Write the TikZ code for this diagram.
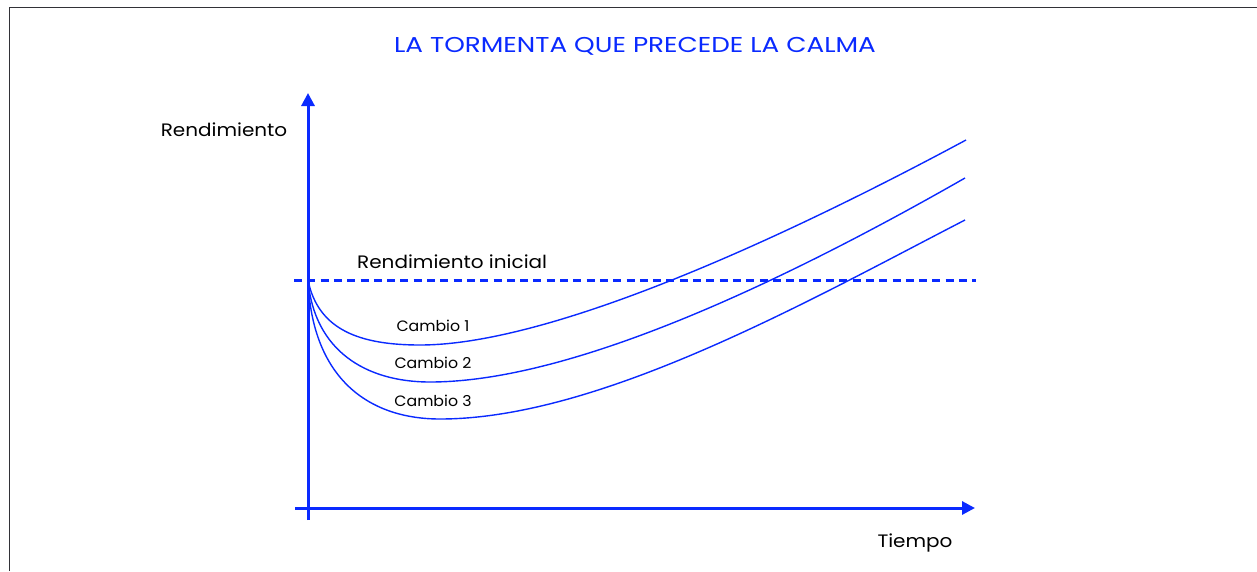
\documentclass[tikz,border=0pt]{standalone}
\usepackage{fontspec}
\setmainfont{Poppins}[FakeStretch=1.11]
\newfontfamily\titlefont{Poppins}[FakeStretch=1.22]
\newfontfamily\cambiofont{Poppins}[FakeStretch=1.05]
\usetikzlibrary{arrows.meta}
\definecolor{myblue}{RGB}{10,42,255}
\definecolor{frame}{RGB}{50,50,55}
\tikzset{
  axis/.style={myblue, line width=3pt},
  curve/.style={myblue, line width=1.4pt},
  baseline/.style={myblue, line width=3pt, dash pattern=on 8pt off 5.3pt},
  lbl/.style={inner sep=0pt, text=black},
  biglbl/.style={lbl, font=\fontsize{18}{22}\selectfont},
  cambio/.style={lbl, anchor=base, font=\cambiofont\fontsize{15}{18}\selectfont},
}
\begin{document}
\begin{tikzpicture}[x=1pt,y=-1pt]
\useasboundingbox (0,0) rectangle (1257,571);
\fill[white] (0,0) rectangle (1257,571);
% frame (cropped on the right and bottom)
\coordinate (f1) at (9.5,571);
\coordinate (f2) at (9.5,7.5);
\coordinate (f3) at (1257,7.5);
\draw[frame, line width=1.5pt] (f1) -- (f2) -- (f3);
% title
\node[lbl, anchor=base, text=myblue, font=\titlefont\fontsize{21.5}{25}\selectfont] (title) at (635,52.5) {LA TORMENTA QUE PRECEDE LA CALMA};
% axes
\coordinate (ybot) at (308,520);
\coordinate (ytop) at (308,93);
\coordinate (xl) at (295,508);
\coordinate (xr) at (975,508);
\draw[axis, -{Triangle[length=13pt,width=13pt]}] (ybot) -- (ytop);
\draw[axis, -{Triangle[length=13pt,width=13pt]}] (xl) -- (xr);
% axis labels
\node[biglbl, anchor=base] (ylab) at (224,136) {Rendimiento};
\node[biglbl, anchor=base] (xlab) at (915,547) {Tiempo};
% initial level
\coordinate (dl) at (294,280);
\coordinate (dr) at (976,280);
\draw[baseline] (dl) -- (dr);
\node[biglbl, anchor=base west] (ini) at (357,268) {Rendimiento inicial};
% curves
\coordinate (o) at (308,280);
\coordinate (m1) at (420,345);
\coordinate (e1) at (966,140);
\coordinate (m2) at (430,382);
\coordinate (e2) at (965,178);
\coordinate (m3) at (440,419);
\coordinate (e3) at (965,220);
\draw[curve] (o) .. controls (318,330) and (360,345) .. (m1) .. controls (550,345) and (780,240) .. (e1);
\draw[curve] (o) .. controls (314,350) and (365,382) .. (m2) .. controls (575,382) and (790,278) .. (e2);
\draw[curve] (o) .. controls (312,380) and (370,419) .. (m3) .. controls (600,419) and (810,300) .. (e3);
% curve labels
\node[cambio] (c1) at (433,331) {Cambio 1};
\node[cambio] (c2) at (433,368.7) {Cambio 2};
\node[cambio] (c3) at (433,406.7) {Cambio 3};
\end{tikzpicture}
\end{document}
